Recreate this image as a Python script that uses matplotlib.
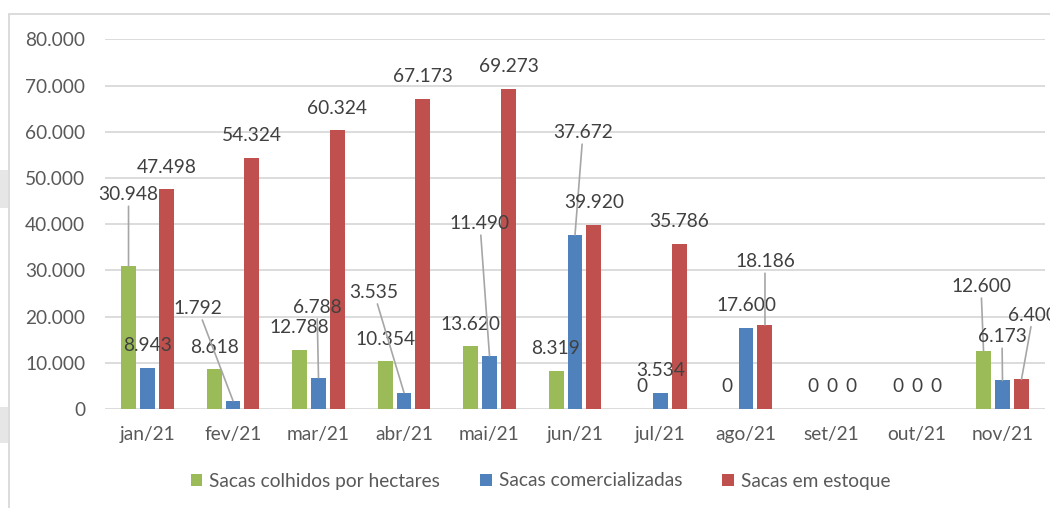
import matplotlib.pyplot as plt
from matplotlib.patches import Patch, Rectangle
import numpy as np

plt.rcParams['font.family'] = ['Lato', 'DejaVu Sans']

meses = ['jan/21', 'fev/21', 'mar/21', 'abr/21', 'mai/21', 'jun/21',
         'jul/21', 'ago/21', 'set/21', 'out/21', 'nov/21']
colhidos = [30948, 8618, 12788, 10354, 13620, 8319, 0, 0, 0, 0, 12600]
comercializadas = [8943, 1792, 6788, 3535, 11490, 37672, 3534, 17600, 0, 0, 6173]
estoque = [47498, 54324, 60324, 67173, 69273, 39920, 35786, 18186, 0, 0, 6400]
nomes = ['Sacas colhidos por hectares', 'Sacas comercializadas', 'Sacas em estoque']
cores = ['#9BBB59', '#4F81BD', '#C0504D']

# rotulos movidos no excel (com linha de chamada): deslocamento em pixels a partir do topo da barra
deslocados = {
    (0, 0): (0, 71),
    (1, 1): (-35, 92),
    (1, 2): (-1.5, 70),
    (1, 3): (-30, 100),
    (1, 4): (-9.5, 132),
    (1, 5): (8, 102),
    (2, 7): (0, 63),
    (0, 10): (-2.5, 64),
    (1, 10): (-0.5, 43.5),
    (2, 10): (11.5, 64),
}

FS = 13.8


def fmt(v):
    return f'{v:,.0f}'.replace(',', '.')


fig = plt.figure(figsize=(10.5, 5.08), dpi=100)
W, H = 1050, 508

# borda do grafico e restos cinzas do print
fig.patches.append(Rectangle((8.5 / W, -0.1), 1.2, (H - 14) / H + 0.1, transform=fig.transFigure,
                             fill=False, edgecolor='#D9D9D9', lw=1.3))
fig.patches.append(Rectangle((0, (H - 208) / H), 8 / W, 38 / H, transform=fig.transFigure,
                             facecolor='#E6E6E6', edgecolor='none'))
fig.patches.append(Rectangle((0, (H - 443) / H), 8 / W, 36 / H, transform=fig.transFigure,
                             facecolor='#E6E6E6', edgecolor='none'))

ax = fig.add_axes([104.75 / W, 99 / H, 940.5 / W, 369.7 / H])
x = np.arange(len(meses))
larg = 0.175
passo = 0.222

for i, (vals, cor) in enumerate(zip([colhidos, comercializadas, estoque], cores)):
    xs = x + (i - 1) * passo
    ax.bar(xs, vals, width=larg, color=cor, zorder=3)
    for j, v in enumerate(vals):
        if (i, j) in deslocados:
            dx, dy = deslocados[(i, j)]
            ax.annotate(fmt(v), xy=(xs[j], v), xytext=(dx, dy), textcoords='offset pixels',
                        ha='center', va='center', fontsize=FS, color='#404040',
                        annotation_clip=False, zorder=6,
                        arrowprops=dict(arrowstyle='-', color='#A6A6A6', lw=1.2,
                                        shrinkA=0, shrinkB=0))
        else:
            ax.annotate(fmt(v), xy=(xs[j], v), xytext=(0, 22), textcoords='offset pixels',
                        ha='center', va='center', fontsize=FS, color='#404040',
                        annotation_clip=False, zorder=6)

ax.set_xlim(-0.5, 10.5)
ax.set_ylim(0, 80000)
ax.set_yticks(np.arange(0, 80001, 10000))
ax.set_yticklabels([fmt(t) for t in np.arange(0, 80001, 10000)])
ax.set_xticks(x)
ax.set_xticklabels(meses)
ax.tick_params(length=0, labelsize=FS, labelcolor='#595959')
ax.tick_params(axis='y', pad=14)
ax.tick_params(axis='x', pad=12)
for s in ax.spines.values():
    s.set_visible(False)
ax.yaxis.grid(True, color='#D9D9D9', lw=1.3)
ax.set_axisbelow(True)

handles = [Patch(facecolor=c) for c in cores]
fig.legend(handles, nomes, loc='center', bbox_to_anchor=(540.5 / W, (H - 481) / H), ncol=3,
           frameon=False, fontsize=FS, labelcolor='#595959', handlelength=0.6, handleheight=0.6,
           handletextpad=0.35, columnspacing=2.1)

fig.savefig('out.png', dpi=100)
